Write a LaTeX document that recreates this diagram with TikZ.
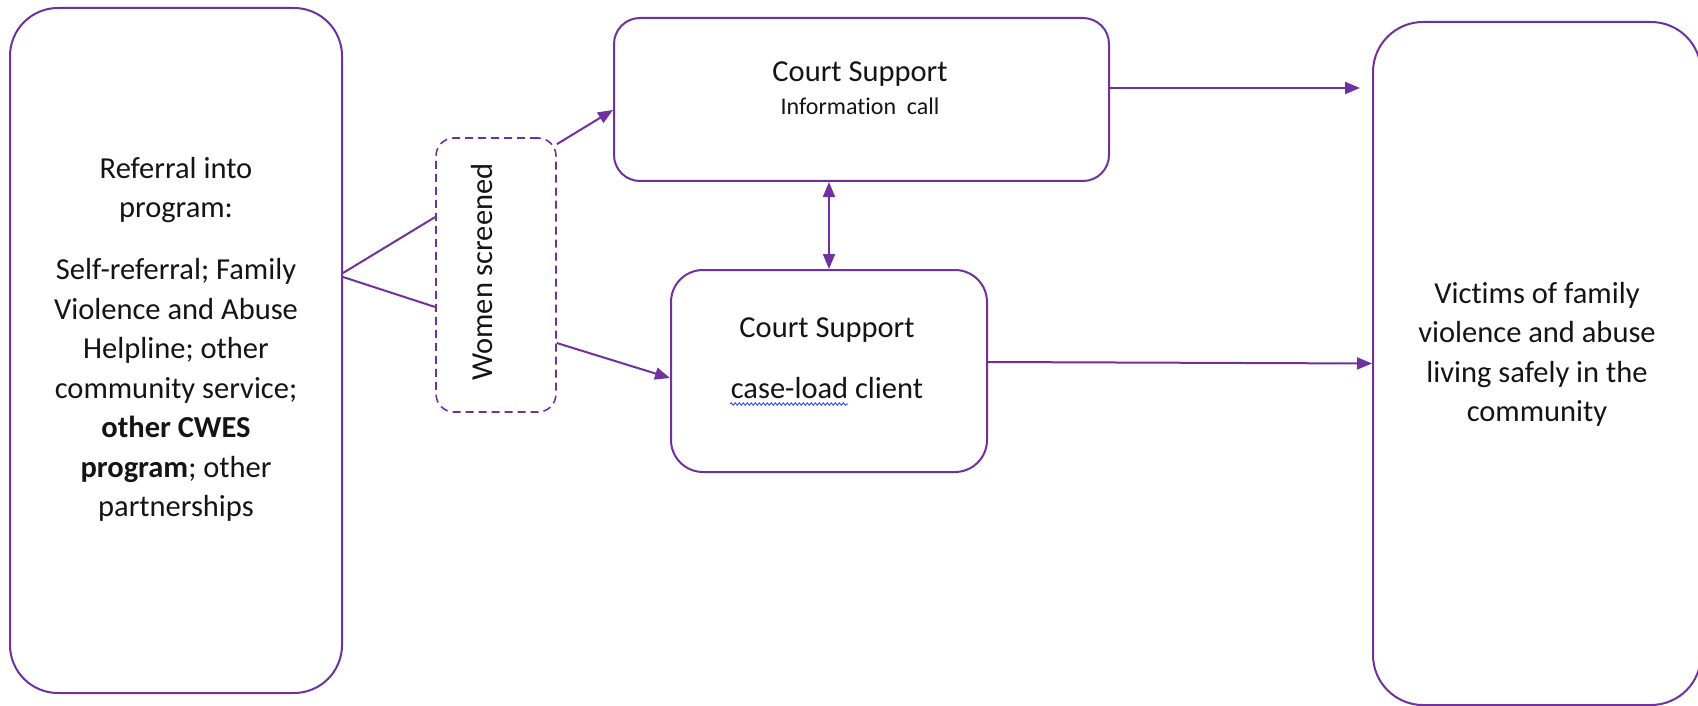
\documentclass[tikz,border=0pt]{standalone}
\usepackage{fontspec}
\setmainfont{Carlito}[Ligatures=CommonOff]
\usetikzlibrary{arrows.meta,decorations.pathmorphing}
\definecolor{plum}{HTML}{7030A0}
\definecolor{ink}{HTML}{141414}
\definecolor{spell}{HTML}{3050FF}

\begin{document}
\begin{tikzpicture}[x=1pt,y=-1pt,
  box/.style={draw=plum,line width=2pt,rounded corners=#1,inner sep=0pt},
  screenbox/.style={draw=plum,line width=1.6pt,rounded corners=18pt,
    dash pattern=on 8pt off 5pt,inner sep=0pt},
  txt/.style={text=ink,align=center,inner sep=0pt,
    font=\fontsize{30.5}{39.5}\selectfont},
  link/.style={draw=plum,line width=2pt},
  flow/.style={link,-{Triangle[length=15pt,width=12pt]}},
  twoway/.style={link,{Triangle[length=15pt,width=12pt]}-{Triangle[length=15pt,width=12pt]}}]

\path[use as bounding box] (0,0) rectangle (1698,706);
\clip (0,0) rectangle (1698,706);

% boxes
\node[box=48pt,minimum width=332pt,minimum height=685pt] (ref) at (176,350.5) {};
\node[screenbox,minimum width=120pt,minimum height=274pt] (scr) at (496,275) {};
\node[box=26pt,minimum width=495pt,minimum height=163pt] (info) at (861.5,99.5) {};
\node[box=32pt,minimum width=316pt,minimum height=202pt] (case) at (829,371) {};
\node[box=50pt,minimum width=328pt,minimum height=683pt] (goal) at (1537,363.5) {};

% texts
\node[txt,anchor=north] (reftext) at (176,157)
  {Referral into\\program:\\[22.5pt]
   Self-referral; Family\\Violence and Abuse\\Helpline; other\\community service;\\
   \textbf{other CWES}\\\textbf{program}; other\\partnerships};
\node[txt,anchor=base,rotate=90] (scrtext) at (492,272) {Women screened};
\node[txt,anchor=north] (infotext) at (860,62)
  {Court Support\\[-6.5pt]{\fontsize{24}{30}\selectfont Information\ \ call}};
\node[txt,anchor=north] (casetext) at (827,318)
  {Court Support\\[21.5pt]case-load client};
\node[txt,anchor=north] (goaltext) at (1537,282)
  {Victims of family\\violence and abuse\\living safely in the\\community};

% spelling mark under "case-load"
\draw[spell,line width=1pt,decorate,
  decoration={snake,amplitude=1.1pt,segment length=4pt}] (730,404) -- (848,404);

% connectors
\draw[link] ([yshift=77.5pt]ref.east) -- ([yshift=58pt]scr.west);
\draw[link] ([yshift=73.5pt]ref.east) -- ([yshift=-32pt]scr.west);
\draw[flow] ([yshift=-7pt]scr.north east) -- ([yshift=-10.5pt]info.west);
\draw[flow] ([yshift=-68pt]scr.east) -- ([yshift=-7pt]case.west);
\draw[twoway] (case.north |- info.south) -- (case.north);
\coordinate (infoout) at ([yshift=11.5pt]info.east);
\coordinate (infoend) at ([xshift=-12pt]goal.west |- infoout);
\draw[flow] (infoout) -- (infoend);
\draw[flow] ([yshift=9pt]case.east) -- (goal.west);
\end{tikzpicture}
\end{document}
